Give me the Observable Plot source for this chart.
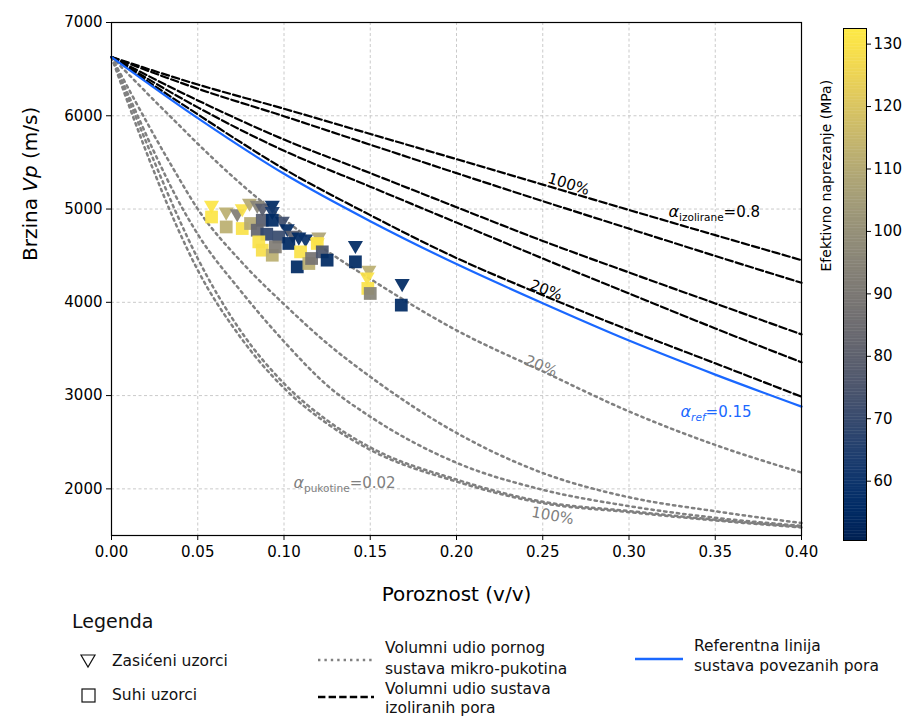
<!DOCTYPE html>
<html><head><meta charset="utf-8">
<script src="https://cdn.jsdelivr.net/npm/d3@7"></script>
<script src="https://cdn.jsdelivr.net/npm/@observablehq/plot@0.6"></script>
<style>
body{margin:0;background:#fff;font-family:"DejaVu Sans",sans-serif;}
#wrap{position:relative;width:921px;height:718px;overflow:hidden;background:#fff}
#main{position:absolute;left:0;top:0}
#cbar{position:absolute;left:805px;top:0}
#legend{position:absolute;left:0;top:608px;width:921px;height:110px}
.lg{position:absolute;font-size:15.5px;line-height:21px;color:#111;white-space:nowrap;font-family:"DejaVu Sans",sans-serif}
.lg svg{display:block}
</style></head><body>
<div id="wrap"><div id="main"></div><div id="cbar"></div><div id="legend"></div></div>
<script>
// ---------- data ----------
const xTicks = [0, 0.05, 0.10, 0.15, 0.20, 0.25, 0.30, 0.35, 0.40];
const yTicks = [2000, 3000, 4000, 5000, 6000, 7000];
const cbarTicks = [60, 70, 80, 90, 100, 110, 120, 130];
const stressDomain = [50.5, 132.5];

// reference line and isolated-pore curves (read at porosity grid)
const phiCoarse = [0, 0.05, 0.10, 0.15, 0.20, 0.25, 0.30, 0.35, 0.40];
const vpRef    = [6630, 5975, 5378, 4870, 4410, 3990, 3590, 3225, 2882];
const vpIso20  = [6630, 6015, 5430, 4935, 4475, 4077, 3702, 3346, 2988];
const vpIso40  = [6630, 6090, 5625, 5240, 4855, 4470, 4095, 3720, 3357];
const vpIso60  = [6630, 6165, 5745, 5385, 5020, 4658, 4320, 3988, 3656];
const vpIso80  = [6630, 6290, 5995, 5690, 5385, 5085, 4790, 4497, 4209];
const vpIso100 = [6630, 6335, 6075, 5805, 5535, 5262, 4990, 4720, 4452];

// micro-crack curves
const phiFine = [0, 0.0125, 0.025, 0.0375, 0.05, 0.075, 0.10, 0.125, 0.15, 0.20, 0.25, 0.30, 0.35, 0.40];
const vpCrack20  = [6630, 6395, 6160, 5930, 5700, 5270, 4890, 4550, 4250, 3700, 3260, 2830, 2471, 2175];
const vpCrack40  = [6630, 6200, 5780, 5380, 5000, 4440, 3980, 3560, 3202, 2600, 2170, 1910, 1760, 1633];
const vpCrack60  = [6630, 6110, 5600, 5130, 4730, 4120, 3580, 3110, 2774, 2280, 1990, 1815, 1690, 1604];
const vpCrack80  = [6630, 6060, 5500, 4960, 4470, 3690, 3130, 2735, 2445, 2100, 1862, 1762, 1670, 1594];
const vpCrack100 = [6630, 5990, 5385, 4830, 4345, 3620, 3080, 2700, 2418, 2078, 1847, 1750, 1661, 1586];

// saturated samples (triangles)
const satPhi    = [0.058, 0.0665, 0.0729, 0.0758, 0.080, 0.0845, 0.0875, 0.0932, 0.0932, 0.0990, 0.1019, 0.1050, 0.1086, 0.1125, 0.1202, 0.1193, 0.1414, 0.1492, 0.1482, 0.1685];
const satVp     = [5041, 4969, 4952, 5005, 5065, 5041, 5010, 5041, 4975, 4870, 4791, 4720, 4701, 4680, 4701, 4640, 4612, 4345, 4273, 4202];
const satStress = [131, 112, 92, 130, 110, 95, 78, 55, 62, 72, 55, 80, 55, 58, 108, 130, 55, 112, 130, 55];

// dry samples (squares)
const dryPhi    = [0.058, 0.0665, 0.0758, 0.0806, 0.0874, 0.0932, 0.0845, 0.0900, 0.0854, 0.0874, 0.0932, 0.0970, 0.0950, 0.1028, 0.1077, 0.1096, 0.1144, 0.1160, 0.1193, 0.1222, 0.1250, 0.1414, 0.1486, 0.1500, 0.1680];
const dryVp     = [4915, 4808, 4791, 4845, 4880, 4880, 4773, 4730, 4648, 4559, 4505, 4700, 4594, 4631, 4380, 4541, 4416, 4470, 4631, 4541, 4452, 4434, 4149, 4095, 3970];
const dryStress = [131, 112, 130, 110, 78, 55, 82, 68, 130, 129, 112, 70, 92, 55, 55, 130, 112, 88, 130, 75, 55, 55, 130, 95, 55];

// ---------- tables ----------
const mkRows = (name, phis, vps) => phis.map((p, i) => ({name, phi: p, vp: vps[i]}));
const refRows = mkRows("ref", phiCoarse, vpRef);
const isoRows = [].concat(
  mkRows("i20", phiCoarse, vpIso20), mkRows("i40", phiCoarse, vpIso40),
  mkRows("i60", phiCoarse, vpIso60), mkRows("i80", phiCoarse, vpIso80),
  mkRows("i100", phiCoarse, vpIso100));
const crackRows = [].concat(
  mkRows("c20", phiFine, vpCrack20), mkRows("c40", phiFine, vpCrack40),
  mkRows("c60", phiFine, vpCrack60), mkRows("c80", phiFine, vpCrack80),
  mkRows("c100", phiFine, vpCrack100));
const sat = satPhi.map((p, i) => ({phi: p, vp: satVp[i], stress: satStress[i]}));
const dry = dryPhi.map((p, i) => ({phi: p, vp: dryVp[i], stress: dryStress[i]}));

const BLUE = "#1a68ff", GRAY = "#808080";
const colorOpts = {type: "linear", scheme: "cividis", domain: stressDomain};

const triDown = {draw(ctx, size) {
  const y = Math.sqrt(size / (Math.sqrt(3) * 3));
  ctx.moveTo(0, 2 * y);
  ctx.lineTo(-Math.sqrt(3) * y, -y);
  ctx.lineTo(Math.sqrt(3) * y, -y);
  ctx.closePath();
}};

const gridStyle = {stroke: "#bcbcbc", strokeOpacity: 1, strokeWidth: 0.8, strokeDasharray: "3,2.5"};
const lbl = (text, phi, vp, opts) => Plot.text([{phi, vp, text}], {x: "phi", y: "vp", text: "text", fontSize: 15, ...opts});

const main = Plot.plot({
  width: 921, height: 608,
  marginLeft: 111, marginRight: 120, marginTop: 22, marginBottom: 73,
  style: {fontFamily: "DejaVu Sans, sans-serif", fontSize: "15px", color: "#000", background: "#fff"},
  x: {domain: [0, 0.4]},
  y: {domain: [1500, 7000]},
  color: colorOpts,
  marks: [
    Plot.gridX(xTicks, gridStyle),
    Plot.gridY(yTicks, gridStyle),
    Plot.line(crackRows, {x: "phi", y: "vp", z: "name", stroke: GRAY, strokeWidth: 2.5, strokeDasharray: "2.4,4", curve: "monotone-x"}),
    Plot.line(isoRows, {x: "phi", y: "vp", z: "name", stroke: "#000", strokeWidth: 2.2, strokeDasharray: "7.4,3.2", curve: "monotone-x"}),
    Plot.line(refRows, {x: "phi", y: "vp", stroke: BLUE, strokeWidth: 2.2, curve: "monotone-x"}),
    Plot.dot(sat, {x: "phi", y: "vp", fill: "stress", symbol: triDown, r: 5.6, fillOpacity: 0.93}),
    Plot.dot(dry, {x: "phi", y: "vp", fill: "stress", symbol: "square", r: 7.2, fillOpacity: 0.93}),
    lbl("100%", 0.265, 5266, {rotate: 17, fill: "#000"}),
    lbl("20%", 0.252, 4131, {rotate: 20, fill: "#000"}),
    lbl("20%", 0.249, 3317, {rotate: 22, fill: GRAY}),
    lbl("100%", 0.2557, 1711, {rotate: 10, fill: GRAY}),
    lbl("a_iso", 0.3229, 4966, {textAnchor: "start", fill: "#000", className: "al-iso"}),
    lbl("a_ref", 0.3299, 2824, {textAnchor: "start", fill: BLUE, className: "al-ref"}),
    lbl("a_puk", 0.1055, 2064, {textAnchor: "start", fill: GRAY, className: "al-puk"}),
    Plot.frame({stroke: "#000", strokeWidth: 1.2}),
    Plot.axisX(xTicks, {tickSize: 5, tickPadding: 6, fontSize: 15, tickFormat: d => d.toFixed(2), label: null}),
    Plot.axisY(yTicks, {tickSize: 5, tickPadding: 4, fontSize: 15, tickFormat: d => String(d), label: null}),
    Plot.text(["Poroznost (v/v)"], {frameAnchor: "bottom", dy: 65, fontSize: 20, fill: "#000"}),
    Plot.text(["Brzina Vp (m/s)"], {frameAnchor: "left", dx: -81, dy: -18, rotate: -90, fontSize: 20, fill: "#000", className: "ylab"})
  ]
});
document.getElementById("main").appendChild(main);

const sel = d3.select(main);
sel.selectAll(".ylab text").html('Brzina <tspan font-style="italic">Vp</tspan> (m/s)');
const alpha = (sub, val, subItalic) =>
  `<tspan font-style="italic" font-size="16">α</tspan><tspan dy="4" font-size="10.5"${subItalic ? ' font-style="italic"' : ''}>${sub}</tspan><tspan dy="-4">${val}</tspan>`;
sel.selectAll(".al-iso text").html(alpha("izolirane", "=0.8", false));
sel.selectAll(".al-ref text").html(alpha("ref", "=0.15", true));
sel.selectAll(".al-puk text").html(alpha("pukotine", "=0.02", false));

// ---------- colorbar ----------
const levels = d3.range(stressDomain[0], stressDomain[1], 0.25);
const cbar = Plot.plot({
  width: 116, height: 560,
  marginLeft: 38, marginRight: 55, marginTop: 28, marginBottom: 20,
  style: {fontFamily: "DejaVu Sans, sans-serif", fontSize: "15px", color: "#000", background: "transparent"},
  x: {domain: [0, 1], axis: null},
  y: {domain: stressDomain, axis: null},
  color: colorOpts,
  marks: [
    Plot.rect(levels, {x1: 0, x2: 1, y1: d => d, y2: d => Math.min(d + 0.32, stressDomain[1]), fill: d => d + 0.125}),
    Plot.frame({stroke: "#000", strokeWidth: 1}),
    Plot.axisY(cbarTicks, {anchor: "right", tickSize: 4, tickPadding: 3, fontSize: 15, tickFormat: d => String(d), label: null}),
    Plot.text(["Efektivno naprezanje (MPa)"], {frameAnchor: "left", rotate: -90, dx: -17, dy: -13, fontSize: 14, fill: "#000"})
  ]
});
document.getElementById("cbar").appendChild(cbar);

// ---------- legend ----------
const L = document.getElementById("legend");
const T0 = 608;
function addDiv(html, left, top, extra) {
  const d = document.createElement("div");
  d.className = "lg";
  d.style.left = left + "px";
  d.style.top = (top - T0) + "px";
  if (extra) Object.assign(d.style, extra);
  d.innerHTML = html;
  L.appendChild(d);
}
addDiv("Legenda", 72, 610, {fontSize: "19px", lineHeight: "22px"});
addDiv('<svg width="18" height="16"><path d="M2,2 L16,2 L9,14 Z" fill="none" stroke="#111" stroke-width="1.2"/></svg>', 79, 653);
addDiv("Zasićeni uzorci", 112, 650.5);
addDiv('<svg width="18" height="18"><rect x="2" y="2" width="13" height="13" fill="none" stroke="#111" stroke-width="1.2"/></svg>', 80, 687);
addDiv("Suhi uzorci", 112, 684.5);
addDiv(`<svg width="56" height="6"><line x1="0" y1="3" x2="56" y2="3" stroke="${GRAY}" stroke-width="2.6" stroke-dasharray="2.4,4"/></svg>`, 318, 657);
addDiv("Volumni udio pornog<br>sustava mikro-pukotina", 385, 637.5);
addDiv('<svg width="56" height="6"><line x1="0" y1="3" x2="56" y2="3" stroke="#000" stroke-width="2.4" stroke-dasharray="7.4,3.2"/></svg>', 318, 694);
addDiv("Volumni udio sustava<br>izoliranih pora", 385, 680, {lineHeight: "19px"});
addDiv(`<svg width="48" height="6"><line x1="0" y1="3" x2="48" y2="3" stroke="${BLUE}" stroke-width="2.6"/></svg>`, 635, 656);
addDiv("Referentna linija<br>sustava povezanih pora", 694, 636, {lineHeight: "20px"});
</script></body></html>
